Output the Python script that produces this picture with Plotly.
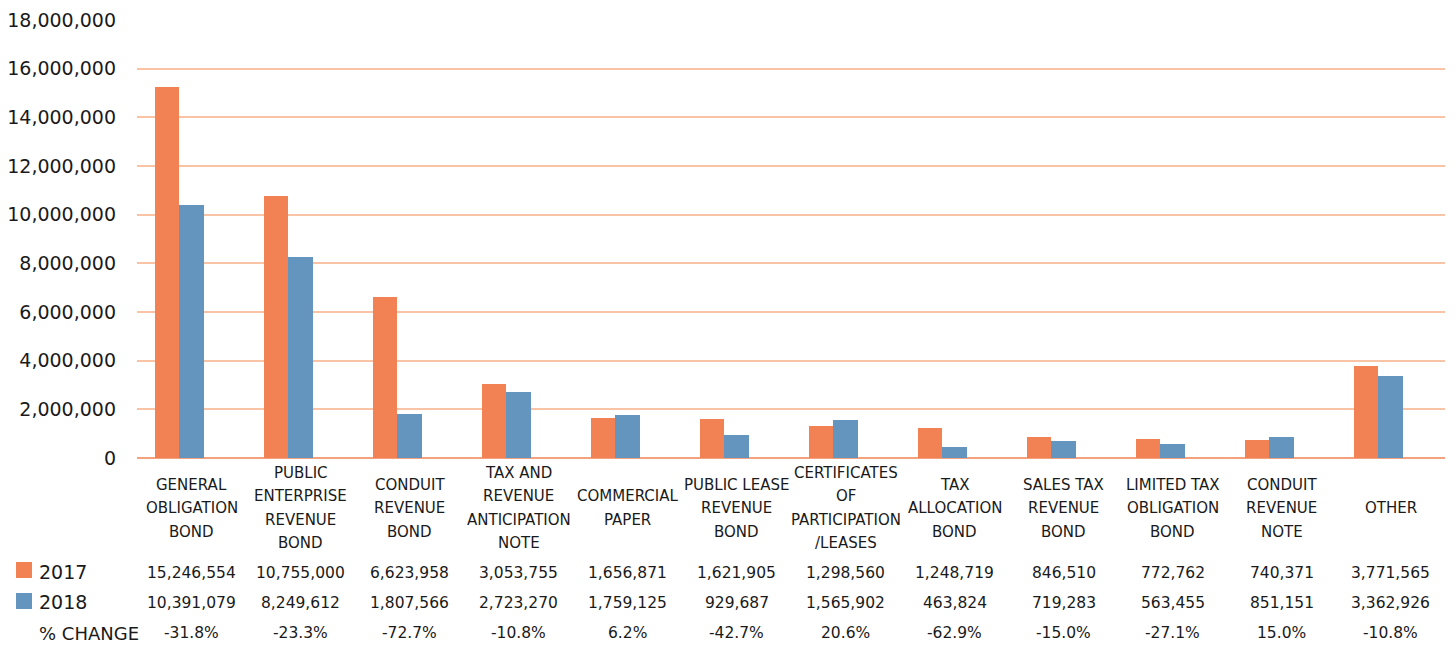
import plotly.graph_objects as go

categories = [
    "GENERAL<br>OBLIGATION<br>BOND",
    "PUBLIC<br>ENTERPRISE<br>REVENUE<br>BOND",
    "CONDUIT<br>REVENUE<br>BOND",
    "TAX AND<br>REVENUE<br>ANTICIPATION<br>NOTE",
    "COMMERCIAL<br>PAPER",
    "PUBLIC LEASE<br>REVENUE<br>BOND",
    "CERTIFICATES<br>OF<br>PARTICIPATION<br>/LEASES",
    "TAX<br>ALLOCATION<br>BOND",
    "SALES TAX<br>REVENUE<br>BOND",
    "LIMITED TAX<br>OBLIGATION<br>BOND",
    "CONDUIT<br>REVENUE<br>NOTE",
    "OTHER",
]
values_2017 = [15246554, 10755000, 6623958, 3053755, 1656871, 1621905,
               1298560, 1248719, 846510, 772762, 740371, 3771565]
values_2018 = [10391079, 8249612, 1807566, 2723270, 1759125, 929687,
               1565902, 463824, 719283, 563455, 851151, 3362926]
pct_change = ["-31.8%", "-23.3%", "-72.7%", "-10.8%", "6.2%", "-42.7%",
              "20.6%", "-62.9%", "-15.0%", "-27.1%", "15.0%", "-10.8%"]
y_ticks = list(range(0, 18000001, 2000000))

ORANGE = "#F28254"
BLUE = "#6495BE"
TXT = "#1a1a1a"
FONT = "DejaVu Sans, Liberation Sans, Arial, sans-serif"

W, H = 1456, 648
L, R, T, B = 137, 11, 20, 190
pw = W - L - R
ph = H - T - B
PLOT_BOTTOM = H - B
LINE_H = 23.5

fig = go.Figure()
fig.add_trace(go.Bar(x=list(range(12)), y=values_2017, name="2017",
                     marker=dict(color=ORANGE, line=dict(width=0)),
                     width=0.223, offset=-0.335))
fig.add_trace(go.Bar(x=list(range(12)), y=values_2018, name="2018",
                     marker=dict(color=BLUE, line=dict(width=0)),
                     width=0.223, offset=-0.112))


def px_to_paper_x(px):
    return (px - L) / pw


ann = []
for i, cat in enumerate(categories):
    lines = cat.split("<br>")
    n = len(lines)
    for j, ln in enumerate(lines):
        ypix = 508 + (j - (n - 1) / 2) * LINE_H
        ann.append(dict(x=i, y=0, xref="x", yref="paper", text=ln,
                        showarrow=False, xanchor="center", yanchor="middle",
                        yshift=-(ypix - PLOT_BOTTOM),
                        font=dict(size=15, color=TXT, family=FONT)))
    for row_y, txt in [(573, f"{values_2017[i]:,}"), (603, f"{values_2018[i]:,}"),
                       (633, pct_change[i])]:
        ann.append(dict(x=i, y=0, xref="x", yref="paper", text=txt,
                        showarrow=False, xanchor="center", yanchor="middle",
                        yshift=-(row_y - PLOT_BOTTOM),
                        font=dict(size=15.5, color=TXT, family=FONT)))

for label, row_y, size in [("2017", 572, 19), ("2018", 602, 19), ("% CHANGE", 633, 18)]:
    ann.append(dict(x=px_to_paper_x(37), y=0, xref="paper", yref="paper",
                    text=label, showarrow=False, xanchor="left", yanchor="middle",
                    yshift=-(row_y - PLOT_BOTTOM),
                    font=dict(size=size, color=TXT, family=FONT)))

shapes = []
for color, row_y in [(ORANGE, 570), (BLUE, 601)]:
    y0 = (PLOT_BOTTOM - (row_y + 8)) / ph
    y1 = (PLOT_BOTTOM - (row_y - 8)) / ph
    shapes.append(dict(type="rect", xref="paper", yref="paper",
                       x0=px_to_paper_x(16), x1=px_to_paper_x(32), y0=y0, y1=y1,
                       fillcolor=color, line=dict(width=0)))

fig.update_layout(
    width=W, height=H,
    margin=dict(l=L, r=R, t=T, b=B, autoexpand=False),
    plot_bgcolor="white", paper_bgcolor="white",
    showlegend=False,
    bargap=0, barmode="overlay",
    annotations=ann, shapes=shapes,
    font=dict(family=FONT, color=TXT),
)
fig.update_xaxes(range=[-0.5, 11.5], showticklabels=False, showgrid=False,
                 zeroline=False, showline=False, ticks="", automargin=False)
fig.update_yaxes(range=[0, 18000000], tickvals=y_ticks,
                 ticktext=[f"{v:,}" for v in y_ticks],
                 tickfont=dict(size=19, color=TXT, family=FONT),
                 showgrid=True, gridcolor="#F9C3A5", gridwidth=1.5,
                 zeroline=True, zerolinecolor="#F4A27E", zerolinewidth=2,
                 showline=False, ticks="", ticklabelstandoff=20, automargin=False)

fig.write_html("out.html", config={"displayModeBar": False},
               post_script="document.body.style.margin='0';document.body.style.overflow='hidden';")
